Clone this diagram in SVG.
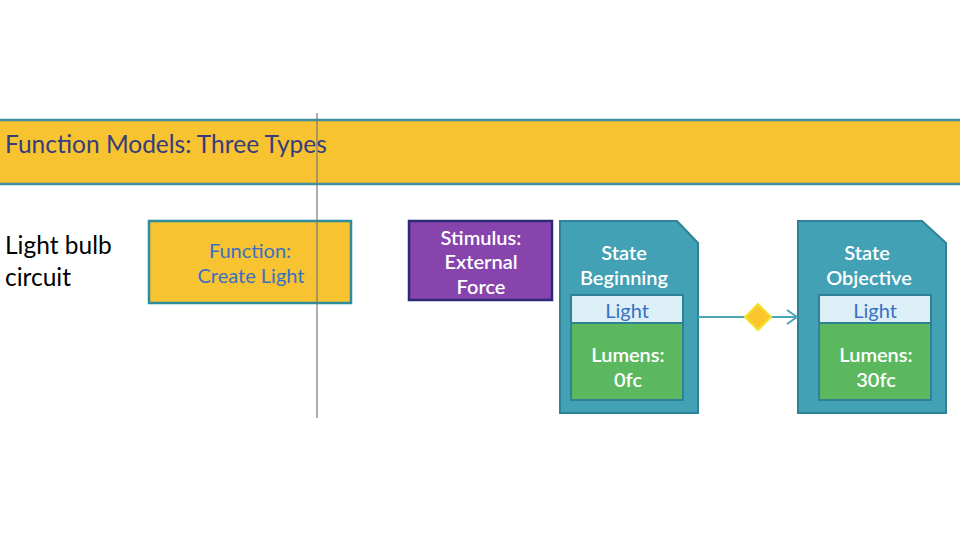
<svg xmlns="http://www.w3.org/2000/svg" width="960" height="540" viewBox="0 0 960 540">
<style>
text{font-family:Lato,"Open Sans","Liberation Sans",sans-serif}
.w{fill:#fff;font-size:20px;text-anchor:middle;font-weight:600}
.b{fill:#3A6FC4;font-size:20px;text-anchor:middle}
.state{fill:#42A1B4;stroke:#2F8296;stroke-width:2}
.bar{fill:#DDEFF6;stroke:#2F8296;stroke-width:2}
.grn{fill:#5CB85F;stroke:#2F8296;stroke-width:2}
</style>
<defs>
<marker id="arr" markerWidth="12" markerHeight="16" refX="11" refY="8" orient="auto" markerUnits="userSpaceOnUse">
<path d="M1,1 L11,8 L1,15" fill="none" stroke="#4AA6B9" stroke-width="2"/>
</marker>
</defs>
<rect width="960" height="540" fill="#fff"/>
<g id="banner">
<rect x="-2" y="120" width="964" height="64" fill="#F7C331" stroke="#3E8FA0" stroke-width="2.5"/>
<text x="5" y="153" font-size="24.5" fill="#363C7C">Function Models: Three Types</text>
</g>
<text x="5" y="254" font-size="24.5" fill="#000">Light bulb</text>
<text x="5" y="286" font-size="24.5" fill="#000">circuit</text>
<g id="function">
<rect x="149" y="221" width="202" height="82" fill="#F7C331" stroke="#2F8C9C" stroke-width="2.5"/>
<text class="b" x="250" y="258">Function:</text>
<text class="b" x="251" y="283">Create Light</text>
</g>
<g id="stimulus">
<rect x="409" y="221" width="143" height="79" fill="#8644AC" stroke="#2B2A78" stroke-width="2.5"/>
<text class="w" x="481" y="245">Stimulus:</text>
<text class="w" x="481" y="269">External</text>
<text class="w" x="481" y="294">Force</text>
</g>
<g id="state-beginning">
<path class="state" d="M560,221 L677,221 L698,243 L698,413 L560,413 Z"/>
<text class="w" x="624" y="260">State</text>
<text class="w" x="624" y="285">Beginning</text>
<rect class="bar" x="571" y="295" width="112" height="28"/>
<text class="b" x="627" y="318">Light</text>
<rect class="grn" x="571" y="323" width="112" height="77"/>
<text class="w" x="628" y="362">Lumens:</text>
<text class="w" x="628" y="387">0fc</text>
</g>
<g id="state-objective">
<path class="state" d="M798,221 L922,221 L946,243 L946,413 L798,413 Z"/>
<text class="w" x="867" y="260">State</text>
<text class="w" x="869" y="285">Objective</text>
<rect class="bar" x="819" y="295" width="112" height="28"/>
<text class="b" x="875" y="318">Light</text>
<rect class="grn" x="819" y="323" width="112" height="77"/>
<text class="w" x="876" y="362">Lumens:</text>
<text class="w" x="876" y="387">30fc</text>
</g>
<g id="connectors">
<line x1="698" y1="317" x2="797" y2="317" stroke="#4AA6B9" stroke-width="2" marker-end="url(#arr)"/>
<path d="M758,304 L771,317 L758,330 L745,317 Z" fill="#FBC52E" stroke="#F7E22A" stroke-width="2"/>
<line x1="317" y1="113" x2="317" y2="418" stroke="#777" stroke-width="1.2"/>
</g>
</svg>
